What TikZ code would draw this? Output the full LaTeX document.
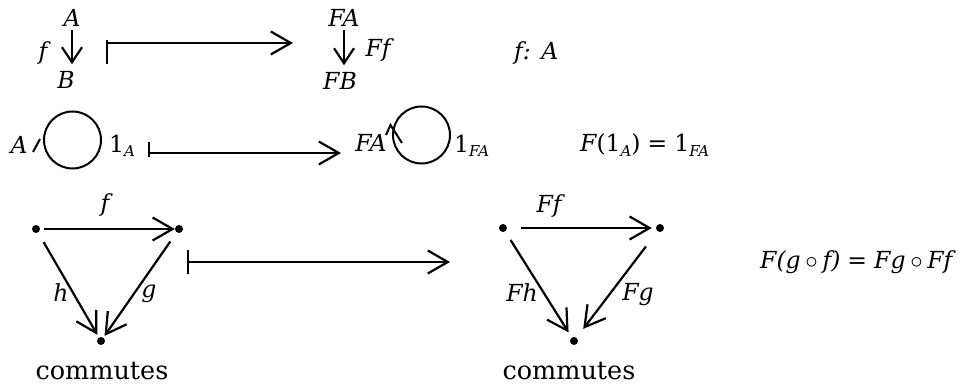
\documentclass[tikz,border=0pt]{standalone}
\usepackage{fontspec}
\setmainfont{DejaVu Serif}
\usetikzlibrary{arrows.meta,calc}
\newcommand\subx[1]{\raisebox{-0.35ex}{\fontsize{15}{16}\selectfont\itshape #1}}
\tikzset{
  mt/.style={font=\fontsize{23.5}{27}\selectfont\itshape, inner sep=0pt},
  rt/.style={font=\fontsize{23.5}{27}\selectfont, inner sep=0pt},
  wordtxt/.style={font=\fontsize{25.5}{30}\selectfont, inner sep=0pt},
  arr/.style={line width=2.2pt, -{Straight Barb[length=20pt,width=23pt]}},
  sarr/.style={line width=2.2pt, -{Straight Barb[length=15pt,width=20pt]}},
  barline/.style={line width=2.2pt},
  loopc/.style={draw, circle, line width=2pt, minimum size=57pt, inner sep=0pt},
  dotn/.style={circle, fill=black, minimum size=8pt, inner sep=0pt},
}
\begin{document}
\begin{tikzpicture}[x=1pt,y=-1pt]
\useasboundingbox (0,0) rectangle (964,387);
% ---------- row 1
\node[mt] (A1) at (72,18) {A};
\node[mt] (B1) at (66,80) {B};
\node[mt] (f1) at (43,53) {f};
\draw[sarr] ($(A1.south)+(0,3)$) -- ($(A1.south |- B1.north)+(0,-7)$);
\coordinate (m1s) at (107,43);
\coordinate (m1e) at (293,43);
\draw[arr] (m1s) -- (m1e);
\draw[barline] ($(m1s)+(0,-3)$) -- ($(m1s)+(0,21)$);
\node[mt] (FA1) at (344,18) {FA};
\node[mt] (FB1) at (340,81) {FB};
\node[mt] (Ff1) at (378,50) {Ff};
\draw[sarr] ($(FA1.south)+(0,3)$) -- ($(FA1.south |- FB1.north)+(0,-7)$);
\node[mt, anchor=west] (fA) at (514,53) {f:\hspace{0.45em}A};
% ---------- row 2
\node[mt] (A2) at (19,145) {A};
\node[loopc] (loop1) at (72.5,140) {};
\draw[line width=2pt] ($(loop1.west)+(-3,-1)$) -- ($(loop1.west)+(-10,12)$);
\node[rt, anchor=west] (id1) at (109,146) {1\subx{A}};
\coordinate (m2s) at (149,153);
\coordinate (m2e) at (341,153);
\draw[arr] (m2s) -- (m2e);
\draw[barline] ($(m2s)+(0,-11)$) -- ($(m2s)+(0,4)$);
\node[mt] (FA2) at (371,143) {FA};
\node[loopc] (loop2) at (421.5,135) {};
\draw[line width=2pt] ($(loop2.west)+(-6,0)$) -- ($(loop2.west)+(-1.5,-10)$) -- ($(loop2.west)+(10,8)$);
\node[rt, anchor=west] (id2) at (454,146) {1\subx{FA}};
\node[rt, anchor=west] (eq1) at (580,145) {{\itshape F}(1\subx{A})\hspace{0.3em}=\hspace{0.3em}1\subx{FA}};
% ---------- row 3 left
\node[dotn] (d1) at (36,229) {};
\node[dotn] (d2) at (179,229) {};
\node[dotn] (d3) at (101,341) {};
\draw[arr, shorten <=4pt, shorten >=0pt] (d1) -- (d2);
\draw[arr, shorten <=11pt, shorten >=3pt] (d1) -- (d3);
\draw[arr, shorten <=11pt, shorten >=2pt] (d2) -- (d3);
\node[mt] (lf) at (105,205) {f};
\node[mt] (lh) at (61,293) {h};
\node[mt] (lg) at (149,294) {g};
\node[wordtxt] (c1) at (102,371) {commutes};
\coordinate (m3s) at (188,262);
\coordinate (m3e) at (450,262);
\draw[arr] (m3s) -- (m3e);
\draw[barline] ($(m3s)+(0,-12)$) -- ($(m3s)+(0,12)$);
% ---------- row 3 right
\node[dotn] (e1) at (503,228) {};
\node[dotn] (e2) at (660,228) {};
\node[dotn] (e3) at (574,341) {};
\draw[arr, shorten <=14pt, shorten >=4pt] (e1) -- (e2);
\draw[arr, shorten <=10pt, shorten >=6pt] (e1) -- (e3);
\draw[arr, shorten <=19pt, shorten >=11pt] (e2) -- (e3);
\node[mt] (lFf) at (549,206) {Ff};
\node[mt] (lFh) at (522,293) {Fh};
\node[mt] (lFg) at (638,295) {Fg};
\node[wordtxt] (c2) at (569,371) {commutes};
\node[mt, anchor=west] (eq2) at (760,262) {F({\itshape g}\hspace{0.2em}$\circ$\hspace{0.2em}f)\hspace{0.3em}{\upshape =}\hspace{0.3em}Fg\hspace{0.2em}$\circ$\hspace{0.2em}Ff};
\end{tikzpicture}
\end{document}
